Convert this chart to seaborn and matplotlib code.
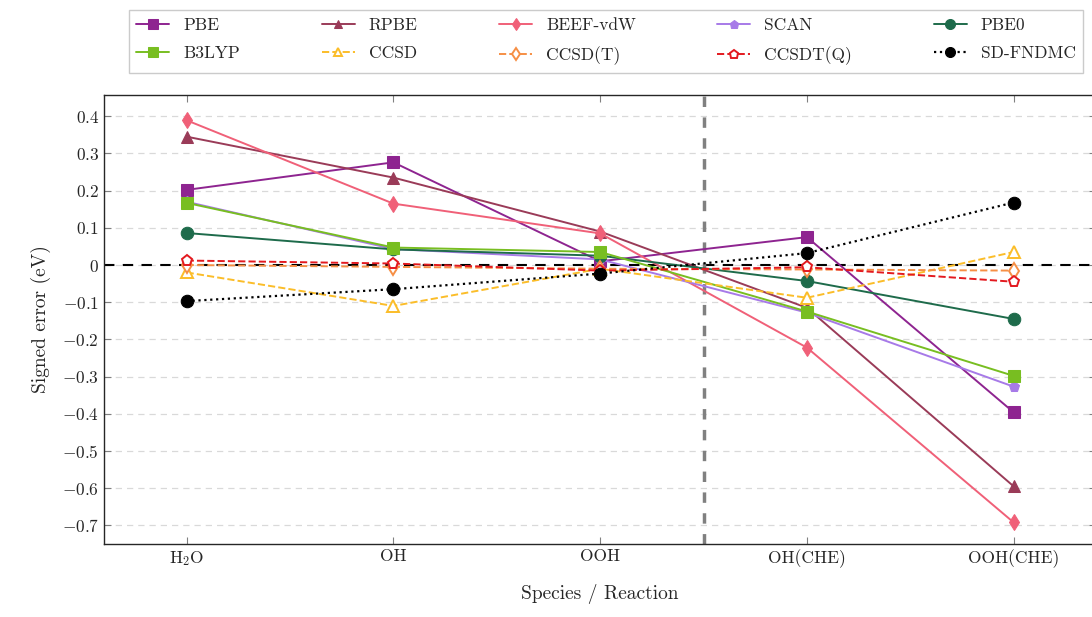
import numpy as np
import pandas as pd
import matplotlib
matplotlib.use('Agg')
import matplotlib.pyplot as plt
import seaborn as sns

# species / reactions on the x axis
species = [r'H$_2$O', 'OH', 'OOH', 'OH(CHE)', 'OOH(CHE)']

# signed errors (eV)
pbe = [0.202, 0.276, 0.010, 0.075, -0.396]
rpbe = [0.345, 0.235, 0.090, -0.115, -0.595]
beef = [0.389, 0.165, 0.085, -0.222, -0.692]
scan = [0.170, 0.043, 0.015, -0.128, -0.327]
pbe0 = [0.086, 0.042, 0.025, -0.043, -0.145]
b3lyp = [0.167, 0.047, 0.035, -0.125, -0.298]
ccsd = [-0.020, -0.110, -0.010, -0.088, 0.035]
ccsd_t = [0.000, -0.005, -0.010, -0.012, -0.015]
ccsdt_q = [0.012, 0.004, -0.015, -0.006, -0.045]
dmc = [-0.097, -0.065, -0.023, 0.032, 0.168]

yticks = [0.4, 0.3, 0.2, 0.1, 0, -0.1, -0.2, -0.3, -0.4, -0.5, -0.6, -0.7]

series = [
    ('PBE', pbe, '#8e2490', 's', '-', True),
    ('RPBE', rpbe, '#9a3b58', '^', '-', True),
    ('BEEF-vdW', beef, '#f06078', 'd', '-', True),
    ('SCAN', scan, '#a77ae8', 'p', '-', True),
    ('PBE0', pbe0, '#1e6b4b', 'o', '-', True),
    ('B3LYP', b3lyp, '#78be21', 's', '-', True),
    ('CCSD', ccsd, '#fbbd29', '^', '--', False),
    ('CCSD(T)', ccsd_t, '#f68f45', 'd', '--', False),
    ('CCSDT(Q)', ccsdt_q, '#e3191f', 'p', '--', False),
    ('SD-FNDMC', dmc, '#000000', 'o', ':', True),
]

sns.set_style('ticks')
plt.rcParams['font.family'] = ['cmr10', 'DejaVu Serif']
plt.rcParams['mathtext.fontset'] = 'cm'
plt.rcParams['axes.formatter.use_mathtext'] = True

fig = plt.figure(figsize=(10.92, 6.17), dpi=100)
# axes runs a little past the right edge of the canvas, like the original
ax = fig.add_axes([0.0952, 0.1183, 0.9088, 0.7277])

xpos = np.arange(len(species))
ax.axhline(0, color='black', linestyle=(0, (5, 4)), linewidth=1.5, zorder=1)
ax.axvline(2.5, color='#808080', linestyle=(0, (3, 3)), linewidth=2.5, zorder=1)

for name, vals, col, mk, ls, filled in series:
    df = pd.DataFrame({'x': xpos, 'y': vals})
    ms = 9 if mk in ('s', 'o') else 8
    kw = dict(color=col, marker=mk, linestyle=ls, linewidth=1.4, markersize=ms,
              markeredgecolor=col, label=name, zorder=3)
    if not filled:
        kw['markerfacecolor'] = 'white'
        kw['markeredgewidth'] = 1.4
    if ls == ':':
        kw['linewidth'] = 1.6
    sns.lineplot(data=df, x='x', y='y', ax=ax, sort=False, legend=False, **kw)

ax.set_xlim(-0.4, 4.4)
ax.set_ylim(-0.75, 0.457)
ax.set_xticks(xpos)
ax.set_xticklabels(species)
ax.set_yticks(yticks)
ax.set_yticklabels(['$0$' if v == 0 else '$%g$' % v for v in yticks])
ax.yaxis.grid(True, color='#d9d9d9', linestyle=(0, (5, 4)), linewidth=0.9)
ax.set_axisbelow(True)
ax.tick_params(direction='in', top=True, right=True, labelsize=12.5, length=5, color='#808080')
for s in ax.spines.values():
    s.set_linewidth(1.0)
ax.set_xlabel('Species / Reaction', fontsize=14, labelpad=12)
ax.set_ylabel('Signed error (eV)', fontsize=14, labelpad=8)

handles, labels = ax.get_legend_handles_labels()
if ax.get_legend() is not None:
    ax.get_legend().remove()
# matplotlib fills legend columns first, reorder so rows read left to right
order = [0, 5, 1, 6, 2, 7, 3, 8, 4, 9]
handles = [handles[i] for i in order]
labels = [labels[i] for i in order]
leg = fig.legend(handles, labels, loc='upper center', bbox_to_anchor=(0.555, 0.998), ncol=5,
                 fontsize=12.5, frameon=True, fancybox=False, edgecolor='#bfbfbf',
                 columnspacing=4.7, handlelength=1.9, borderpad=0.45, labelspacing=0.75,
                 markerscale=0.8)
leg.get_frame().set_linewidth(1.0)

plt.savefig('out.png', dpi=100)
